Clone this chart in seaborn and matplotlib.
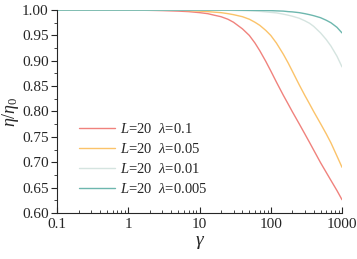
import matplotlib
matplotlib.use("Agg")
import matplotlib.pyplot as plt
import matplotlib.ticker as mticker
import seaborn as sns
import pandas as pd
import numpy as np

# shear rate values (x axis)
gamma = [0.1, 1, 2, 3, 5, 7, 10, 13, 16, 20, 25, 30, 40, 50, 60, 70, 85, 100,
         120, 150, 175, 200, 250, 300, 350, 400, 500, 600, 700, 850, 1000]

# eta / eta0
eta_01 = [1.0, 1.0, 0.9995, 0.999, 0.998, 0.997, 0.995, 0.993, 0.990, 0.987, 0.982, 0.976, 0.963,
          0.950, 0.935, 0.920, 0.899, 0.880, 0.858, 0.832, 0.815, 0.800, 0.776, 0.756, 0.739,
          0.724, 0.699, 0.680, 0.664, 0.644, 0.626]
eta_005 = [1.0, 1.0, 1.0, 1.0, 1.0, 0.999, 0.998, 0.997, 0.996, 0.995, 0.993, 0.991, 0.987,
           0.982, 0.976, 0.970, 0.960, 0.950, 0.935, 0.913, 0.896, 0.880, 0.853, 0.832, 0.815,
           0.800, 0.776, 0.756, 0.738, 0.712, 0.690]
eta_001 = [1.0, 1.0, 1.0, 1.0, 1.0, 1.0, 1.0, 1.0, 1.0, 0.9997, 0.9995, 0.9993, 0.999,
           0.9985, 0.998, 0.9975, 0.9965, 0.9955, 0.9945, 0.992, 0.990, 0.988, 0.984, 0.979,
           0.974, 0.968, 0.955, 0.942, 0.929, 0.909, 0.888]
eta_0005 = [1.0, 1.0, 1.0, 1.0, 1.0, 1.0, 1.0, 1.0, 1.0, 1.0, 1.0, 1.0, 0.9997,
            0.9996, 0.9995, 0.9994, 0.9992, 0.999, 0.9985, 0.998, 0.997, 0.9965, 0.995, 0.993,
            0.991, 0.989, 0.985, 0.980, 0.975, 0.966, 0.955]

labels = [r"$L$=20  $\lambda$=0.1", r"$L$=20  $\lambda$=0.05",
          r"$L$=20  $\lambda$=0.01", r"$L$=20  $\lambda$=0.005"]
colors = ["#F0827D", "#FBC36A", "#D5E4E0", "#6DB7AE"]

df = pd.DataFrame({"gamma": gamma * 4,
                   "eta": eta_01 + eta_005 + eta_001 + eta_0005,
                   "series": sum([[lab] * len(gamma) for lab in labels], [])})

sns.set_style("ticks")
plt.rcParams["font.family"] = ["Liberation Serif", "DejaVu Serif"]
plt.rcParams["mathtext.fontset"] = "custom"
plt.rcParams["mathtext.rm"] = "Liberation Serif"
plt.rcParams["mathtext.it"] = "Liberation Serif:italic"

fig = plt.figure(figsize=(3.57, 2.59), dpi=100)
ax = fig.add_axes([0.160, 0.178, 0.798, 0.783])

sns.lineplot(data=df, x="gamma", y="eta", hue="series", palette=colors,
             hue_order=labels, linewidth=1.0, ax=ax)

ax.set_xscale("log")
ax.set_xlim(0.1, 1000)
ax.set_ylim(0.60, 1.00)
ax.set_xticks([0.1, 1, 10, 100, 1000])
ax.set_xticklabels(["0.1", "1", "10", "100", "1000"])
ax.xaxis.set_minor_locator(mticker.LogLocator(subs=np.arange(2, 10)))
ax.xaxis.set_minor_formatter(mticker.NullFormatter())
ax.set_yticks(np.arange(0.60, 1.001, 0.05))
ax.yaxis.set_major_formatter(mticker.FormatStrFormatter("%.2f"))
ax.yaxis.set_minor_locator(mticker.MultipleLocator(0.025))

ax.tick_params(axis="x", which="major", direction="in", length=4, width=0.8, labelsize=11, pad=4)
ax.tick_params(axis="x", which="minor", direction="in", length=2, width=0.6)
ax.tick_params(axis="y", which="major", direction="out", length=4, width=0.8, labelsize=11, pad=2)
ax.tick_params(axis="y", which="minor", direction="out", length=2, width=0.6)

for s in ["top", "right"]:
    ax.spines[s].set_visible(False)
for s in ["left", "bottom"]:
    ax.spines[s].set_linewidth(0.8)

ax.set_xlabel(r"$\gamma$", fontsize=14, labelpad=2)
ax.set_ylabel(r"$\eta/\eta_0$", fontsize=13, labelpad=1)

ax.legend(frameon=False, loc="lower left", bbox_to_anchor=(0.03, 0.02),
          fontsize=10.5, handlelength=2.5, handletextpad=0.35, labelspacing=0.4)

fig.savefig("out.png", dpi=100)
